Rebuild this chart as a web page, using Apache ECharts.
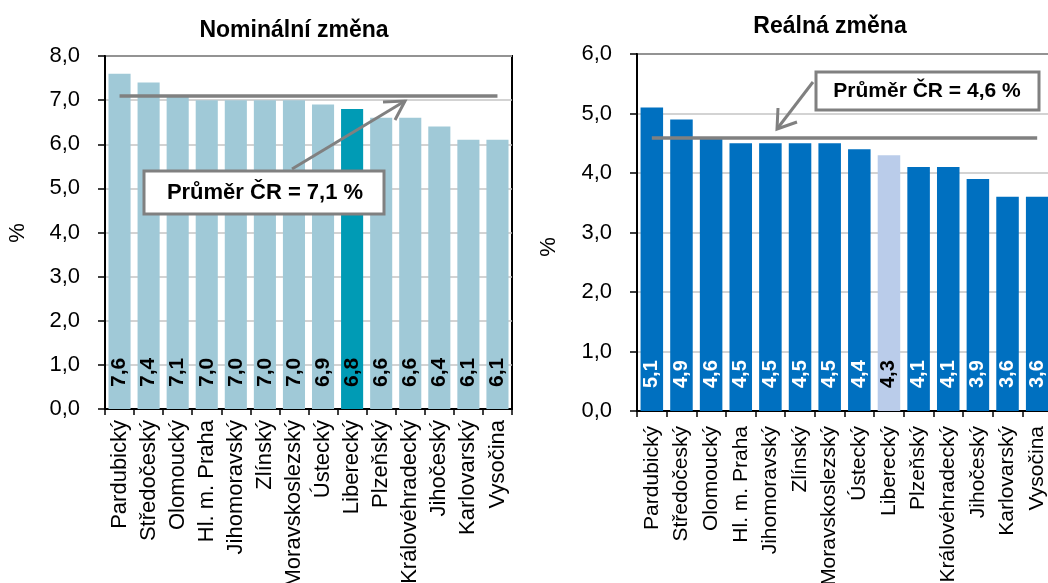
<!DOCTYPE html>
<html>
<head>
<meta charset="utf-8">
<script src="https://cdn.jsdelivr.net/npm/echarts@6/dist/echarts.min.js"></script>
<style>
html,body{margin:0;padding:0;background:#fff;}
#c{width:1048px;height:583px;}
</style>
</head>
<body>
<div id="c"></div>
<script>
var categories = ['Pardubický','Středočeský','Olomoucký','Hl. m. Praha','Jihomoravský','Zlínský','Moravskoslezský','Ústecký','Liberecký','Plzeňský','Královéhradecký','Jihočeský','Karlovarský','Vysočina'];
var nominal = [7.6,7.4,7.1,7.0,7.0,7.0,7.0,6.9,6.8,6.6,6.6,6.4,6.1,6.1];
var real = [5.1,4.9,4.6,4.5,4.5,4.5,4.5,4.4,4.3,4.1,4.1,3.9,3.6,3.6];
var nominalAvg = 7.1;
var realAvg = 4.6;
var highlight = 'Liberecký';
var titles = ['Nominální změna','Reálná změna'];
var avgLabels = ['Průměr ČR = 7,1 %','Průměr ČR = 4,6 %'];

var FONT = 'Liberation Sans, Arial, sans-serif';
var fmt = function(v){ return v.toFixed(1).replace('.', ','); };

function items(vals, base, hi, lblBase, lblHi){
  return vals.map(function(v,i){
    var isHi = categories[i] === highlight;
    return {value: v, itemStyle:{color: isHi ? hi : base}, label:{color: isHi ? lblHi : lblBase}};
  });
}

var chart = echarts.init(document.getElementById('c'));

function yAxis(gi, max){
  return {
    type:'value', gridIndex:gi, min:0, max:max, interval:1,
    axisLine:{show:true, lineStyle:{color:'#000', width:2}},
    axisTick:{show:true, length:7, lineStyle:{color:'#000', width:1.5}},
    axisLabel:{color:'#000', fontSize:22, fontFamily:FONT, margin:25, formatter:function(v){return fmt(v);}},
    splitLine:{show:true, lineStyle:{color:'#C4C4C4', width:1.5}}
  };
}
function xAxis(gi, margin, fs){
  return {
    type:'category', gridIndex:gi, data:categories,
    axisLine:{show:true, lineStyle:{color:'#000', width:2}},
    axisTick:{show:true, length:6, lineStyle:{color:'#000', width:1.5}},
    axisLabel:{rotate:90, interval:0, color:'#000', fontSize:fs, fontFamily:FONT, margin:margin}
  };
}
function barSeries(gi, vals, base, hi, lb, lh, avg, fs, dist){
  return {
    type:'bar', xAxisIndex:gi, yAxisIndex:gi, barCategoryGap:'24%',
    data: items(vals, base, hi, lb, lh),
    label:{show:true, position:'insideBottom', rotate:90, align:'left', verticalAlign:'middle', distance:dist,
      fontSize:fs, fontWeight:'bold', fontFamily:FONT, formatter:function(p){return fmt(p.value);}},
    markLine:{silent:true, symbol:['none','none'], label:{show:false},
      lineStyle:{color:'#808080', width:3.5, type:'solid'},
      data:[[{coord:[0, avg]},{coord:[categories.length-1, avg]}]]},
    animation:false
  };
}

function g(o){ o.z = 100; return o; }

chart.setOption({
  animation:false,
  title:[
    {text:titles[0], left:289, top:14, textAlign:'center', textStyle:{fontSize:23, fontWeight:'bold', fontFamily:FONT, color:'#000'}},
    {text:titles[1], left:825, top:10, textAlign:'center', textStyle:{fontSize:23, fontWeight:'bold', fontFamily:FONT, color:'#000'}}
  ],
  grid:[
    {left:105, top:56, width:407, height:353, outerBoundsMode:'none', containLabel:false, show:true, borderColor:'#000', borderWidth:2, backgroundColor:'transparent'},
    {left:637, top:54, width:415, height:357, outerBoundsMode:'none', containLabel:false, show:true, borderColor:'#000', borderWidth:2, backgroundColor:'transparent'}
  ],
  xAxis:[xAxis(0, 11, 22), xAxis(1, 15, 21)],
  yAxis:[yAxis(0, 8), yAxis(1, 6)],
  series:[
    barSeries(0, nominal, '#A0C9D7', '#009BB5', '#000', '#000', nominalAvg, 21, 22),
    barSeries(1, real, '#0070C0', '#BACCEA', '#fff', '#000', realAvg, 20, 23)
  ],
  graphic:[
    g({type:'text', x:18, y:233, rotation:Math.PI/2, style:{text:'%', fontSize:22, fontFamily:FONT, fill:'#000', align:'center', verticalAlign:'middle'}}),
    g({type:'text', x:549, y:247, rotation:Math.PI/2, style:{text:'%', fontSize:22, fontFamily:FONT, fill:'#000', align:'center', verticalAlign:'middle'}}),
    g({type:'line', shape:{x1:292, y1:169, x2:405, y2:101}, style:{stroke:'#808080', lineWidth:3}}),
    g({type:'polyline', shape:{points:[[383,102],[405,101],[395,120]]}, style:{stroke:'#808080', lineWidth:3, fill:null}}),
    g({type:'rect', shape:{x:144, y:171, width:240, height:43}, style:{fill:'#fff', stroke:'#808080', lineWidth:3}}),
    g({type:'text', x:265, y:193, style:{text:avgLabels[0], fontSize:22, fontWeight:'bold', fontFamily:FONT, fill:'#000', align:'center', verticalAlign:'middle'}}),
    g({type:'line', shape:{x1:813, y1:82, x2:777, y2:129}, style:{stroke:'#808080', lineWidth:3}}),
    g({type:'polyline', shape:{points:[[778,108],[777,129],[797,122]]}, style:{stroke:'#808080', lineWidth:3, fill:null}}),
    g({type:'rect', shape:{x:816, y:72, width:223, height:38}, style:{fill:'#fff', stroke:'#808080', lineWidth:3}}),
    g({type:'text', x:927, y:91, style:{text:avgLabels[1], fontSize:21, fontWeight:'bold', fontFamily:FONT, fill:'#000', align:'center', verticalAlign:'middle'}})
  ]
});
</script>
</body>
</html>
